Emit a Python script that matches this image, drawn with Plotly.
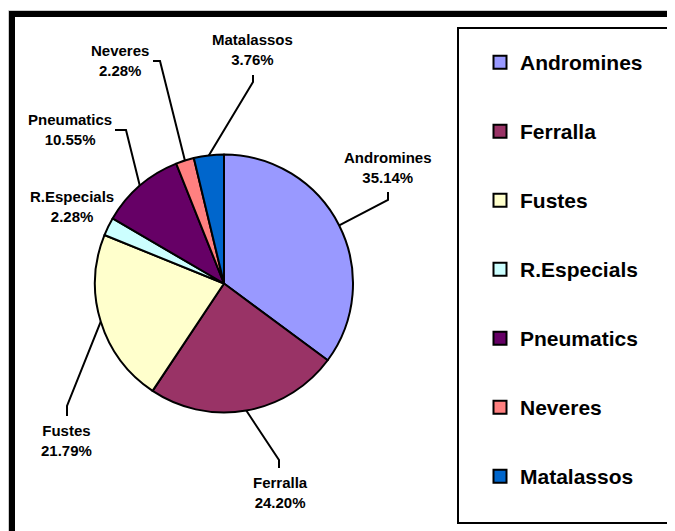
import math
import plotly.graph_objects as go

# ---- data ----
categories = ["Andromines", "Ferralla", "Fustes", "R.Especials", "Pneumatics", "Neveres", "Matalassos"]
shares = [35.14, 24.20, 21.79, 2.28, 10.55, 2.28, 3.76]
colors = ["#9999FF", "#993366", "#FFFFCC", "#CCFFFF", "#660066", "#FF8080", "#0066CC"]

# ---- layout / style (pixel positions in window coordinates) ----
WIN_W, WIN_H = 675, 531
OFF = 8                      # default page body margin
W, H = WIN_W - OFF, WIN_H - OFF
CX, CY, R = 224, 283.5, 129
label_pos = [(388, 167.5), (280, 492.5), (66, 440.5), (72, 206.5), (70, 129.5), (120, 60.5), (252, 49.5)]
leader_knees = [((388, 200), (388, 192)), ((279, 460), (279, 468)), ((67, 406), (67, 416)), None,
                ((126, 130), (115, 130)), ((160, 61), (153, 61)), ((253, 82), (253, 75))]
FONT = "Liberation Sans, Arial, sans-serif"


def px(x):
    return (x - OFF) / W


def py(y):
    return 1 - (y - OFF) / H


fig = go.Figure()

total = sum(shares)
fig.add_trace(go.Pie(
    labels=categories, values=shares, sort=False, direction="clockwise", rotation=0,
    marker=dict(colors=colors, line=dict(color="black", width=2)),
    textinfo="none", showlegend=False, hoverinfo="label+percent",
    domain=dict(x=[px(CX - R), px(CX + R)], y=[py(CY + R), py(CY - R)]),
))

# leader lines from slice mid-angle edge
lx, ly = [], []
cum = 0.0
for i, v in enumerate(shares):
    mid = (cum + v / 2) / total * 2 * math.pi
    cum += v
    if leader_knees[i] is None:
        continue
    ex, ey = CX + R * math.sin(mid), CY - R * math.cos(mid)
    (kx, ky), (tx, ty) = leader_knees[i]
    lx += [ex, kx, tx, None]
    ly += [ey, ky, ty, None]
fig.add_trace(go.Scatter(x=lx, y=ly, mode="lines", line=dict(color="black", width=2),
                         hoverinfo="skip", showlegend=False))

# legend entries
for c, col in zip(categories, colors):
    fig.add_trace(go.Scatter(x=[None], y=[None], mode="markers", name=f"<b>{c}</b>", legendgroup=c,
                             marker=dict(symbol="square", size=13, color=col,
                                         line=dict(color="black", width=2))))

# labels
for c, v, (x, y) in zip(categories, shares, label_pos):
    fig.add_annotation(x=x, y=y, xref="x", yref="y", text=f"<b>{c}<br>{v:.2f}%</b>",
                       showarrow=False, font=dict(family=FONT, size=15, color="black"),
                       align="center")

fig.update_layout(
    width=W, height=H, margin=dict(l=0, r=0, t=0, b=0),
    paper_bgcolor="white", plot_bgcolor="white",
    xaxis=dict(range=[OFF, WIN_W], visible=False, fixedrange=True),
    yaxis=dict(range=[WIN_H, OFF], visible=False, fixedrange=True),
    legend=dict(x=px(480), y=py(42), xanchor="left", yanchor="top",
                traceorder="grouped", tracegroupgap=38.7, borderwidth=0,
                bgcolor="rgba(0,0,0,0)",
                font=dict(family=FONT, size=21, color="black"), itemclick=False),
    shapes=[
        dict(type="rect", xref="x", yref="y", x0=8.5, y0=10.5, x1=760, y1=620,
             line=dict(color="#cccccc", width=1)),
        dict(type="rect", xref="x", yref="y", x0=12, y0=14, x1=760, y1=620,
             line=dict(color="black", width=6)),
        dict(type="rect", xref="x", yref="y", x0=458, y0=28, x1=672, y1=523,
             line=dict(color="black", width=2)),
    ],
)

fig.write_html("out.html")
